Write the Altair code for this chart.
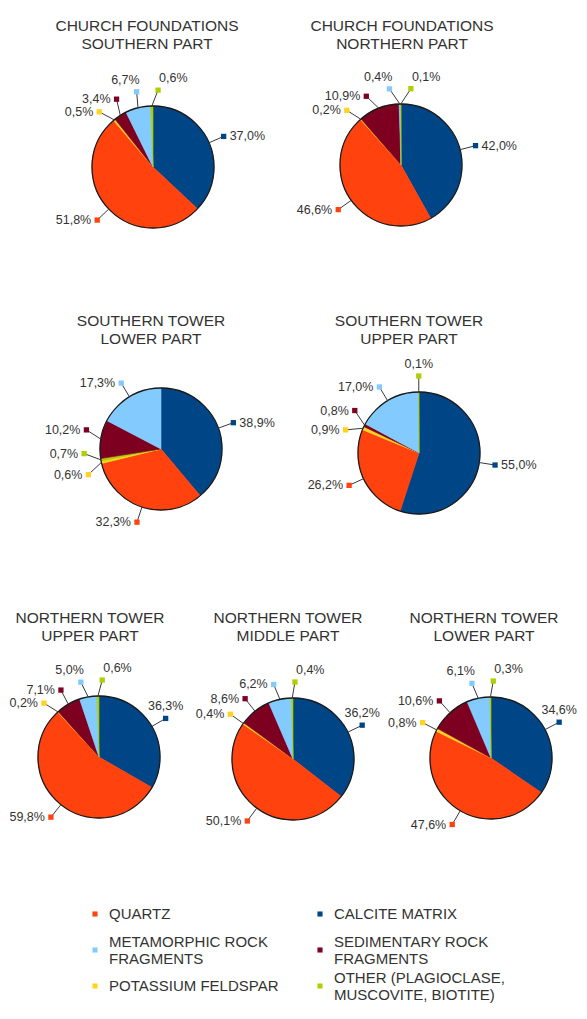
import math
import altair as alt
import pandas as pd

# ---------------- data ----------------
titles = [
    "CHURCH FOUNDATIONS\nSOUTHERN PART",
    "CHURCH FOUNDATIONS\nNORTHERN PART",
    "SOUTHERN TOWER\nLOWER PART",
    "SOUTHERN TOWER\nUPPER PART",
    "NORTHERN TOWER\nUPPER PART",
    "NORTHERN TOWER\nMIDDLE PART",
    "NORTHERN TOWER\nLOWER PART",
]
minerals = [
    "CALCITE MATRIX",
    "QUARTZ",
    "POTASSIUM FELDSPAR",
    "SEDIMENTARY ROCK FRAGMENTS",
    "METAMORPHIC ROCK FRAGMENTS",
    "OTHER (PLAGIOCLASE, MUSCOVITE, BIOTITE)",
]
legend_labels = [
    "CALCITE MATRIX",
    "QUARTZ",
    "POTASSIUM FELDSPAR",
    "SEDIMENTARY ROCK\nFRAGMENTS",
    "METAMORPHIC ROCK\nFRAGMENTS",
    "OTHER (PLAGIOCLASE,\nMUSCOVITE, BIOTITE)",
]
colors = ["#004586", "#ff420e", "#ffd320", "#7e0021", "#83caff", "#aecf00"]

calcite = [37.0, 42.0, 38.9, 55.0, 36.3, 36.2, 34.6]
quartz = [51.8, 46.6, 32.3, 26.2, 59.8, 50.1, 47.6]
k_feldspar = [0.5, 0.2, 0.6, 0.9, 0.2, 0.4, 0.8]
sedimentary = [3.4, 10.9, 10.2, 0.8, 7.1, 8.6, 10.6]
metamorphic = [6.7, 0.4, 17.3, 17.0, 5.0, 6.2, 6.1]
other = [0.6, 0.1, 0.7, 0.1, 0.6, 0.4, 0.3]
values = [calcite, quartz, k_feldspar, sedimentary, metamorphic, other]

# clockwise drawing order of the slices (indices into minerals), per pie
slice_order = [
    [0, 1, 2, 3, 4, 5],
    [0, 1, 2, 3, 4, 5],
    [0, 1, 2, 5, 3, 4],
    [0, 1, 2, 3, 4, 5],
    [0, 1, 2, 3, 4, 5],
    [0, 1, 2, 3, 4, 5],
    [0, 1, 2, 3, 4, 5],
]
legend_order = [1, 0, 4, 3, 2, 5]

# ---------------- layout (pixels of the drawing area) ----------------
W, H = 571, 995
pie_cx = [145, 393, 153, 411, 91, 285, 483]
pie_cy = [159, 157, 441, 445, 749, 751, 750]
title_x = [139, 394, 143, 401, 82, 280, 476]
title_y = [11, 11, 306, 306, 603, 603, 603]
legend_col_x = [87, 312]
legend_row_y = [906, 942, 978]

FONT = "Liberation Sans"
TXT = "#333333"
R = 61          # pie radius (px)
RL = R + 16     # radius of the label markers
G = 16 * math.pi / 180  # minimal angular gap between neighbouring labels

rows = []
for p in range(len(titles)):
    for k, m in enumerate(slice_order[p]):
        rows.append(dict(pie=p, order=k, mineral=minerals[m], value=values[m][p],
                         color=colors[m], cx=pie_cx[p], cy=pie_cy[p]))
slices = pd.DataFrame(rows)

titles_df = pd.DataFrame({"title": titles, "x": title_x, "y": title_y})

legend_df = pd.DataFrame({
    "label": [legend_labels[i] for i in legend_order],
    "color": [colors[i] for i in legend_order],
    "x": [legend_col_x[j % 2] for j in range(6)],
    "y": [legend_row_y[j // 2] for j in range(6)],
})

XS = alt.Scale(domain=[0, W], nice=False, zero=False)
YS = alt.Scale(domain=[0, H], reverse=True, nice=False, zero=False)


def X(f):
    return alt.X(f, type="quantitative", scale=XS, axis=None)


def Y(f):
    return alt.Y(f, type="quantitative", scale=YS, axis=None)


srt = [alt.SortField("order")]
base = (
    alt.Chart(slices)
    .transform_joinaggregate(total="sum(value)", groupby=["pie"])
    .transform_window(cum="sum(value)", groupby=["pie"], sort=srt, frame=[None, 0])
    .transform_calculate(t0="(datum.cum - datum.value) / datum.total * 2 * PI")
    .transform_calculate(t1="datum.cum / datum.total * 2 * PI")
    .transform_calculate(mid="(datum.t0 + datum.t1) / 2")
    .transform_calculate(b=f"datum.mid - datum.order * {G}")
    .transform_window(fmax="max(b)", groupby=["pie"], sort=srt, frame=[None, 0])
    .transform_window(bmin="min(b)", groupby=["pie"], sort=srt, frame=[0, None])
    .transform_calculate(la=f"datum.order * {G} + (datum.fmax + datum.bmin) / 2")
    .transform_calculate(ex=f"datum.cx + {R} * sin(datum.mid)")
    .transform_calculate(ey=f"datum.cy - {R} * cos(datum.mid)")
    .transform_calculate(mx=f"datum.cx + {RL} * sin(datum.la)")
    .transform_calculate(my=f"datum.cy - {RL} * cos(datum.la)")
    .transform_calculate(s="sin(datum.la)")
    .transform_calculate(c="cos(datum.la)")
    .transform_calculate(
        side="datum.s > 0.25 ? (datum.c > 0.42 ? 'T' : 'L') : "
             "(datum.s < -0.25 ? 'R' : (datum.c <= 0 ? 'B' : "
             "(datum.s < -0.02 ? 'TR' : (datum.s > 0.02 ? 'TL' : 'T'))))")
    .transform_calculate(
        tx="datum.mx + (datum.side == 'L' ? 6 : (datum.side == 'R' ? -6 : "
           "(datum.side == 'TR' ? 3 : (datum.side == 'TL' ? 1 : 0))))")
    .transform_calculate(
        ty="datum.my + (datum.side == 'B' ? 5 : "
           "((datum.side == 'L' || datum.side == 'R') ? 0 : -5))")
    .transform_calculate(label="replace(format(datum.value, '.1f'), '.', ',') + '%'")
)

arcs = base.mark_arc(radius=R, strokeWidth=0.6).encode(
    theta=alt.Theta("t0:Q", scale=None, stack=None),
    theta2=alt.Theta2("t1"),
    x=X("cx"), y=Y("cy"),
    color=alt.Color("color:N", scale=None),
    stroke=alt.Stroke("color:N", scale=None),
)
outline = base.transform_filter("datum.order == 0").mark_arc(
    radius=R, filled=False, stroke="#1a1a1a", strokeWidth=1.3
).encode(theta=alt.value(0), theta2=alt.value(2 * math.pi), x=X("cx"), y=Y("cy"))

leaders = base.mark_rule(color="#3a3a3a", strokeWidth=1).encode(
    x=X("ex"), y=Y("ey"), x2="mx:Q", y2="my:Q")
markers = base.mark_square(size=28, opacity=1).encode(
    x=X("mx"), y=Y("my"), color=alt.Color("color:N", scale=None))

texts = []
for side, align, baseline in [("L", "left", "middle"), ("R", "right", "middle"),
                              ("T", "center", "bottom"), ("TR", "right", "bottom"),
                              ("TL", "left", "bottom"), ("B", "center", "top")]:
    texts.append(
        base.transform_filter(f"datum.side == '{side}'").mark_text(
            align=align, baseline=baseline, font=FONT, fontSize=12.5, color=TXT
        ).encode(x=X("tx"), y=Y("ty"), text="label:N")
    )

title_layer = alt.Chart(titles_df).mark_text(
    align="center", baseline="top", font=FONT, fontSize=15.5, lineHeight=18,
    lineBreak="\n", color=TXT
).encode(x=X("x"), y=Y("y"), text="title:N")

leg_sq = alt.Chart(legend_df).mark_square(size=26, opacity=1).encode(
    x=X("x"), y=Y("y"), color=alt.Color("color:N", scale=None))
leg_tx = (
    alt.Chart(legend_df)
    .transform_calculate(ly="datum.y - (indexof(datum.label, '\\n') >= 0 ? 8.5 : 0)")
    .mark_text(align="left", baseline="middle", dx=14, font=FONT, fontSize=15,
               lineHeight=17, lineBreak="\n", color=TXT)
    .encode(x=X("x"), y=Y("ly"), text="label:N")
)

chart = (
    alt.layer(arcs, outline, leaders, markers, *texts, title_layer, leg_sq, leg_tx)
    .properties(width=W, height=H, background="white",
                padding={"left": 0, "top": 0, "right": 0, "bottom": 0})
    .configure_view(stroke=None)
)

chart.save("out.html", embed_options={"renderer": "svg", "actions": False})
